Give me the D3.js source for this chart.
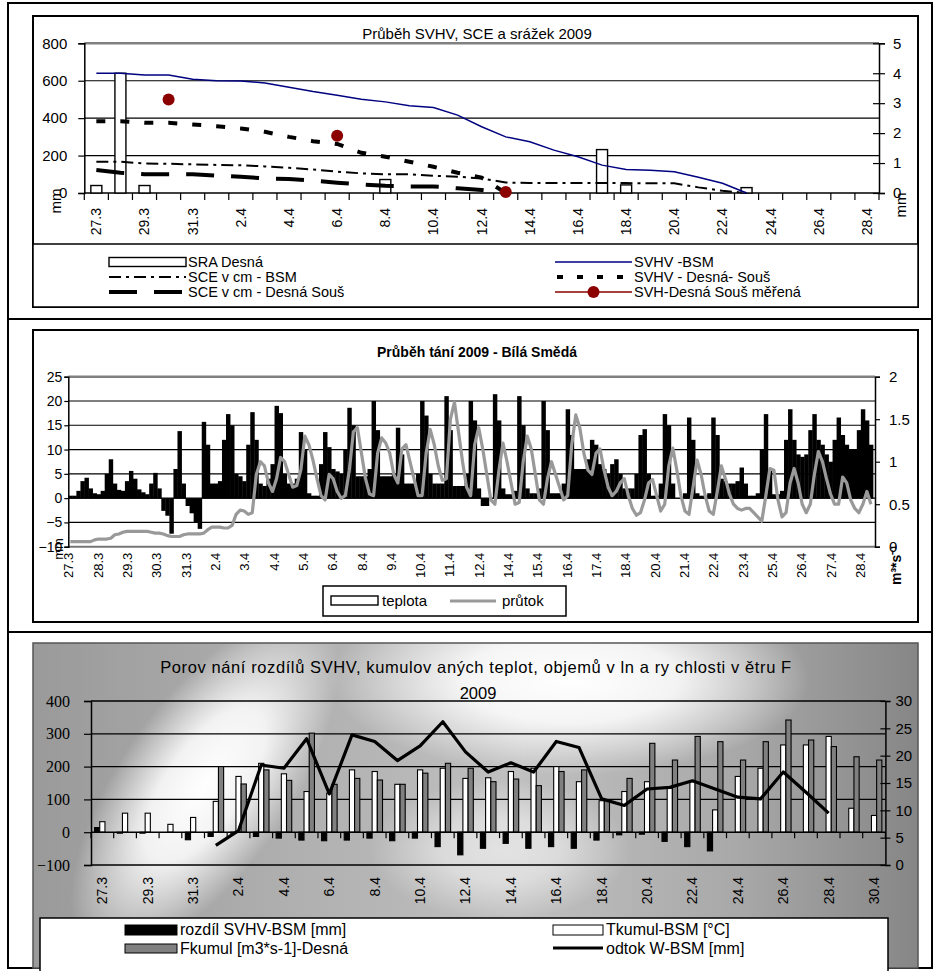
<!DOCTYPE html>
<html><head><meta charset="utf-8">
<script src="https://cdn.jsdelivr.net/npm/d3@7"></script>
<style>
body{margin:0;background:#fff}
svg text{font-family:Arial,"Liberation Sans",Helvetica,sans-serif;fill:#000}
</style></head>
<body>
<script>
// ---------------- data: snow water, snow depth and precipitation ----------------
const topDays = ["27.3","28.3","29.3","30.3","31.3","1.4","2.4","3.4","4.4","5.4","6.4","7.4","8.4","9.4","10.4","11.4","12.4","13.4","14.4","15.4","16.4","17.4","18.4","19.4","20.4","21.4","22.4","23.4","24.4","25.4","26.4","27.4","28.4"];
const sraDesna  = [0.25,4.0,0.25,0,0,0,0,0,0,0,0,0,0.45,0,0,0,0,0,0,0,0,1.45,0.27,0,0,0,0,0.18,0,0,0,0,0];
const svhvBsm   = [640,640,630,630,608,600,598,588,565,542,522,501,487,466,457,416,354,300,274,229,194,149,126,121,114,84,52,0,null,null,null,null,null];
const svhvDesna = [384,384,375,375,366,357,345,327,300,277,262,215,194,167,140,108,82,0,null,null,null,null,null,null,null,null,null,null,null,null,null,null,null];
const sceBsm    = [167,167,158,156,153,150,148,142,135,125,114,105,100,100,92,87,78,56,53,53,53,53,53,52,52,30,12,0,null,null,null,null,null];
const sceDesna  = [123,108,100,100,100,92,87,78,75,66,55,46,39,35,35,25,16,0,null,null,null,null,null,null,null,null,null,null,null,null,null,null,null];
const svhMerena = [null,null,null,500,null,null,null,null,null,null,306,null,null,null,null,null,null,5,null,null,null,null,null,null,null,null,null,null,null,null,null,null,null];

// ---------------- data: melt at Bílá Smědá, 4-hour steps from 27.3 ----------------
const meltStepHours = 4;
const meltLabels = ["27.3","28.3","29.3","30.3","31.3","2.4","3.4","4.4","5.4","6.4","8.4","9.4","10.4","11.4","12.4","14.4","15.4","16.4","17.4","18.4","20.4","21.4","22.4","23.4","25.4","26.4","27.4","28.4"];
const meltLabelEveryHours = 29;
const teplota = [
 0.5,0.5,1.5,3.5,4.2,2.0,   1.0,0.8,1.5,5.0,8.0,3.0,   1.7,1.5,3.5,5.6,4.0,1.8,   1.2,0.8,3.0,5.2,2.0,-2.5,
 -3.5,-7.2,6.0,13.8,3.0,-1.5, -3.0,-5.0,-6.2,15.7,11.0,3.0, 3.0,3.5,12.0,17.3,15.0,5.0, 4.5,3.5,11.0,17.7,12.0,3.0,
 2.5,4.0,7.0,19.0,17.5,5.0, 3.0,3.0,4.0,13.6,10.0,1.0,   0.5,0.5,7.0,13.6,10.5,6.0,  5.5,5.0,10.0,18.6,15.0,4.5,
 4.5,4.5,6.0,20.0,14.0,4.5, 4.5,4.5,5.0,14.5,9.0,3.0,   3.0,3.0,5.0,20.0,17.0,5.0,  3.0,3.0,3.0,21.0,14.0,2.5,
 2.5,2.5,5.0,20.0,16.0,2.0, -1.5,-1.5,0.0,21.4,16.0,2.0, 0.8,0.8,1.5,21.0,15.0,2.0,  1.0,1.0,2.0,20.0,14.0,1.0,
 1.0,1.0,3.0,18.3,13.0,6.0, 6.0,6.0,8.0,12.0,11.0,7.0,  6.0,5.0,7.0,8.0,5.0,2.0,    2.0,2.0,5.0,13.0,14.2,5.0,
 0.5,0.5,3.0,17.3,15.0,3.0, 0.0,0.0,1.0,16.6,12.0,1.0,  0.5,0.5,1.0,16.6,13.0,4.0,  3.5,3.0,3.0,3.5,6.3,3.0,
 0.5,0.5,1.0,10.0,17.3,6.0, 0.8,0.8,1.5,12.0,18.3,12.0, 9.0,8.5,9.0,14.0,17.3,12.0, 11.0,9.0,7.5,12.0,16.6,13.0,
 11.0,10.0,10.0,14.0,18.3,16.0, 11.0];
const prutok = [
 0.06,0.06,0.06,0.06,0.06,0.06, 0.08,0.09,0.09,0.09,0.10,0.14, 0.15,0.17,0.18,0.18,0.18,0.18, 0.18,0.18,0.17,0.16,0.16,0.15,
 0.13,0.12,0.12,0.12,0.14,0.15, 0.15,0.15,0.15,0.16,0.20,0.23, 0.23,0.23,0.22,0.22,0.25,0.38, 0.43,0.42,0.38,0.40,0.85,1.00,
 0.95,0.75,0.65,0.80,1.05,1.00, 0.85,0.70,0.72,0.90,1.30,1.20, 1.02,0.80,0.60,0.55,0.85,0.80, 0.65,0.57,0.60,0.90,1.35,1.40,
 1.10,0.80,0.62,0.60,1.10,1.28, 1.22,1.10,0.85,0.75,1.15,1.20, 1.00,0.80,0.60,0.60,1.10,1.38, 1.20,0.95,0.78,0.80,1.50,1.70,
 1.35,1.00,0.70,0.60,1.20,1.40, 1.15,0.85,0.55,0.50,0.90,1.22, 1.00,0.75,0.50,0.52,1.00,1.30, 1.15,0.85,0.55,0.50,0.80,1.00,
 0.85,0.70,0.55,0.60,1.20,1.55, 1.40,1.10,0.90,0.85,1.10,1.15, 0.90,0.70,0.60,0.65,0.75,0.80, 0.60,0.45,0.37,0.40,0.55,0.75,
 0.79,0.60,0.42,0.50,0.95,1.16, 0.90,0.60,0.42,0.38,0.70,1.02, 0.85,0.60,0.42,0.38,0.65,0.95, 0.80,0.62,0.50,0.45,0.43,0.45,
 0.45,0.40,0.35,0.30,0.60,0.92, 0.90,0.55,0.35,0.40,0.75,0.92, 0.75,0.50,0.40,0.50,0.85,1.12, 1.00,0.80,0.62,0.50,0.50,0.82,
 0.75,0.55,0.45,0.40,0.50,0.65, 0.50];

// ---------------- data: differences, cumulative temperatures, runoff ----------------
const botDays = ["27.3","28.3","29.3","30.3","31.3","1.4","2.4","3.4","4.4","5.4","6.4","7.4","8.4","9.4","10.4","11.4","12.4","13.4","14.4","15.4","16.4","17.4","18.4","19.4","20.4","21.4","22.4","23.4","24.4","25.4","26.4","27.4","28.4","29.4","30.4"];
const rozdil = [14,-3,-3,0,-23,-13,-3,-13,-18,-24,-26,-24,-18,-26,-18,-44,-69,-49,-34,-49,-44,-49,-24,-8,-6,-28,-44,-57,0,0,0,0,0,0,0];
const tkumul = [32,58,58,24,45,94,170,210,178,124,119,190,185,146,190,195,164,166,185,195,200,154,96,124,154,134,154,68,170,195,266,266,292,73,51];
const fkumul = [0,0,0,0,0,200,147,190,158,302,146,164,159,146,180,210,195,154,162,142,185,190,98,164,271,220,292,276,220,276,342,281,261,230,220];
const odtok  = [null,null,null,null,null,3.6,6.3,18.3,17.7,23.1,13.0,23.8,22.6,19.1,21.8,26.2,20.7,17.0,18.7,17.0,22.6,21.5,12.1,10.9,13.9,14.2,15.4,13.9,12.4,12.1,17.0,13.3,9.5,null,null];

// ---------------- drawing ----------------
const svg = d3.select("body").append("svg").attr("width",939).attr("height",971);
const SERIF = "'Times New Roman','Liberation Serif',serif";
const fmt = d3.format("~g");

function styleAxis(g, size, family){
  g.select(".domain").attr("stroke","#000").attr("stroke-width",1.5);
  g.selectAll(".tick line").attr("stroke","#000").attr("stroke-width",1.2);
  g.selectAll(".tick text").style("font-size",size+"px").attr("fill","#000");
  if(family) g.selectAll(".tick text").style("font-family",family);
}
function rotLabels(g, pad, size){
  g.select(".domain").remove();
  g.selectAll(".tick line").remove();
  g.selectAll(".tick text").attr("transform","rotate(-90)").attr("x",-pad).attr("y",0)
    .attr("dy","0.35em").attr("text-anchor","end").style("font-size",size+"px");
}
function hline(g,x1,x2,y,color,w){ return g.append("line").attr("x1",x1).attr("x2",x2).attr("y1",y).attr("y2",y).attr("stroke",color).attr("stroke-width",w); }
function vtitle(g,x,y,txt,size,bold){
  return g.append("text").attr("transform",`translate(${x},${y}) rotate(-90)`).attr("text-anchor","middle")
    .attr("dy","0.35em").style("font-size",size+"px").style("font-weight",bold?"bold":"normal").text(txt);
}

// table frame
svg.append("rect").attr("x",8).attr("y",3).attr("width",924).attr("height",965).attr("fill","#fff").attr("stroke","#000").attr("stroke-width",2);
hline(svg,8,932,319,"#000",2);
hline(svg,8,932,632,"#000",2);

// ======== panel 1 ========
const p1 = svg.append("g");
p1.append("rect").attr("x",33).attr("y",16).attr("width",885).attr("height",291).attr("fill","#fff").attr("stroke","#000").attr("stroke-width",2);
const tX = d3.scaleBand().domain(topDays).range([84.3,879]);
const tL = d3.scaleLinear().domain([0,800]).range([193,43.3]);
const tR = d3.scaleLinear().domain([0,5]).range([193,43.3]);
const tc = d => tX(d)+tX.bandwidth()/2;

[200,400,600].forEach(v=>hline(p1,84.3,879,tL(v),"#000",1.2));
hline(p1,84.3,879,tL(800),"#808080",2.5);

p1.append("g").attr("transform","translate(84.3,0)")
  .call(d3.axisLeft(tL).tickValues([0,200,400,600,800]).tickSize(6).tickPadding(11))
  .call(g=>styleAxis(g,15));
p1.append("g").attr("transform","translate(879,0)")
  .call(d3.axisRight(tR).tickValues([0,1,2,3,4,5]).tickFormat(fmt).tickSize(6).tickPadding(8))
  .call(g=>styleAxis(g,15))
  .call(g=>g.selectAll(".tick line").attr("x1",-6));
// category axis
hline(p1,84.3,879,tL(0),"#000",1.5);
p1.selectAll(".tb").data(topDays.map(d=>tX(d)).concat([879])).join("line")
  .attr("x1",d=>d).attr("x2",d=>d).attr("y1",tL(0)).attr("y2",tL(0)+7).attr("stroke","#000").attr("stroke-width",1.2);
p1.append("g").attr("transform",`translate(0,${tL(0)})`)
  .call(d3.axisBottom(tX).tickValues(topDays.filter((d,i)=>i%2===0)))
  .call(g=>rotLabels(g,15,14));

// precipitation bars
p1.selectAll(".sra").data(topDays.map((k,i)=>({k,v:sraDesna[i]})).filter(d=>d.v>0)).join("rect")
  .attr("x",d=>tc(d.k)-5.5).attr("width",11).attr("y",d=>tR(d.v)).attr("height",d=>tR(0)-tR(d.v))
  .attr("fill","#fff").attr("stroke","#000").attr("stroke-width",1.4);

const tLine = d3.line().defined(d=>d.v!=null).x(d=>tc(d.k)).y(d=>tL(d.v));
const ser = arr => topDays.map((k,i)=>({k,v:arr[i]}));
p1.append("path").datum(ser(sceBsm)).attr("d",tLine).attr("fill","none").attr("stroke","#000").attr("stroke-width",2).attr("stroke-dasharray","12,5,3,5");
p1.append("path").datum(ser(sceDesna)).attr("d",tLine).attr("fill","none").attr("stroke","#000").attr("stroke-width",4).attr("stroke-dasharray","28,17");
p1.append("path").datum(ser(svhvDesna)).attr("d",tLine).attr("fill","none").attr("stroke","#000").attr("stroke-width",4).attr("stroke-dasharray","9,15");
p1.append("path").datum(ser(svhvBsm)).attr("d",tLine).attr("fill","none").attr("stroke","#000080").attr("stroke-width",1.5);
p1.selectAll(".svh").data(ser(svhMerena).filter(d=>d.v!=null)).join("circle")
  .attr("cx",d=>tc(d.k)).attr("cy",d=>tL(d.v)).attr("r",6).attr("fill","#8b0000");

p1.append("text").attr("x",477).attr("y",34).attr("dy","0.35em").attr("text-anchor","middle").style("font-size","15px").text("Průběh SVHV, SCE a srážek 2009");
vtitle(p1,56,201,"mm",15);
vtitle(p1,901,205,"mm",15);

// legend
p1.append("rect").attr("x",33).attr("y",244).attr("width",885).attr("height",63).attr("fill","#fff").attr("stroke","#000").attr("stroke-width",1.5);
const lg1 = [
  {x:109,y:262,t:"SRA Desná",k:"bar"},
  {x:109,y:277,t:"SCE v cm - BSM",k:"dd"},
  {x:109,y:292,t:"SCE v cm - Desná Souš",k:"ld"},
  {x:555,y:262,t:"SVHV -BSM",k:"blue"},
  {x:555,y:277,t:"SVHV - Desná- Souš",k:"dot"},
  {x:555,y:292,t:"SVH-Desná Souš měřená",k:"mark"}];
lg1.forEach(d=>{
  const w=77;
  if(d.k==="bar") p1.append("rect").attr("x",d.x).attr("y",d.y-4.5).attr("width",w).attr("height",9).attr("fill","#fff").attr("stroke","#000").attr("stroke-width",1.4);
  if(d.k==="dd") hline(p1,d.x,d.x+w,d.y,"#000",2).attr("stroke-dasharray","12,5,3,5");
  if(d.k==="ld") hline(p1,d.x,d.x+w,d.y,"#000",4).attr("stroke-dasharray","28,17");
  if(d.k==="blue") hline(p1,d.x,d.x+w,d.y,"#000080",1.5);
  if(d.k==="dot") hline(p1,d.x,d.x+w,d.y,"#000",4).attr("stroke-dasharray","6,14").attr("stroke-dashoffset",-2);
  if(d.k==="mark"){ hline(p1,d.x,d.x+w,d.y,"#8b0000",1.5); p1.append("circle").attr("cx",d.x+w/2).attr("cy",d.y).attr("r",6).attr("fill","#8b0000"); }
  p1.append("text").attr("x",d.x+w+2).attr("y",d.y).attr("dy","0.35em").style("font-size","14.5px").text(d.t);
});

// ======== panel 2 ========
const p2 = svg.append("g");
p2.append("rect").attr("x",33).attr("y",330).attr("width",885).attr("height",292).attr("fill","#fff").attr("stroke","#000").attr("stroke-width",2);
const hoursTotal = 798;
const mX = d3.scaleLinear().domain([0,hoursTotal]).range([68.3,875]);
const mL = d3.scaleLinear().domain([-10,25]).range([546.7,376.7]);
const mR = d3.scaleLinear().domain([0,2]).range([546.7,376.7]);

[20,15,10,5,0,-5].forEach(v=>hline(p2,68.3,875,mL(v),"#000",1.2));
hline(p2,68.3,875,mL(25),"#808080",2.5);
hline(p2,68.3,875,mL(-10),"#777",2);

// temperature bars
p2.selectAll(".tb").data(teplota).join("rect")
  .attr("x",(d,i)=>mX(i*meltStepHours))
  .attr("width",(d,i)=>mX(Math.min((i+1)*meltStepHours,hoursTotal))-mX(i*meltStepHours)+0.4)
  .attr("y",d=>mL(Math.max(d,0))).attr("height",d=>Math.abs(mL(d)-mL(0))+0.6)
  .attr("fill","#000");
// discharge line
p2.append("path").datum(prutok)
  .attr("d",d3.line().x((d,i)=>mX(i*meltStepHours+meltStepHours/2)).y(d=>mR(d)))
  .attr("fill","none").attr("stroke","#999").attr("stroke-width",3.2).attr("stroke-linejoin","round");

p2.append("g").attr("transform","translate(68.3,0)")
  .call(d3.axisLeft(mL).tickValues([-10,-5,0,5,10,15,20,25]).tickSize(4).tickPadding(2))
  .call(g=>styleAxis(g,14));
p2.append("g").attr("transform","translate(875,0)")
  .call(d3.axisRight(mR).tickValues([0,0.5,1,1.5,2]).tickFormat(fmt).tickSize(5).tickPadding(9))
  .call(g=>styleAxis(g,15));
const tickHours = meltLabels.map((d,i)=>i*meltLabelEveryHours);
p2.append("g").attr("transform",`translate(0,${mL(-10)})`)
  .call(d3.axisBottom(mX).tickValues(tickHours).tickFormat((d,i)=>meltLabels[i]))
  .call(g=>rotLabels(g,6,13));

p2.append("text").attr("x",477).attr("y",352).attr("dy","0.35em").attr("text-anchor","middle")
  .style("font-size","14px").style("font-weight","bold").text("Průběh tání 2009 - Bílá Smědá");
vtitle(p2,58,549,"mm",13);
vtitle(p2,896,565,"m³*s⁻¹",14,true);

p2.append("rect").attr("x",323).attr("y",586).attr("width",243).attr("height",30).attr("fill","#fff").attr("stroke","#000").attr("stroke-width",1.5);
p2.append("rect").attr("x",331).attr("y",596).attr("width",47).attr("height",9).attr("fill","#fff").attr("stroke","#000").attr("stroke-width",1.4);
p2.append("text").attr("x",382).attr("y",601).attr("dy","0.35em").style("font-size","15px").text("teplota");
hline(p2,450,496,601,"#999",3.2);
p2.append("text").attr("x",502).attr("y",601).attr("dy","0.35em").style("font-size","15px").text("průtok");

// ======== panel 3 ========
const p3 = svg.append("g");
const defs = svg.append("defs");
const gr = defs.append("linearGradient").attr("id","bg3").attr("gradientUnits","userSpaceOnUse")
  .attr("x1",33).attr("y1",0).attr("x2",918).attr("y2",0);
[[0,"#9a9a9a"],[0.3,"#b0b0b0"],[0.55,"#c0c0c0"],[0.8,"#a8a8a8"],[1,"#868686"]]
  .forEach(s=>gr.append("stop").attr("offset",s[0]).attr("stop-color",s[1]));
const hl = defs.append("radialGradient").attr("id","hl");
[[0,1],[0.45,0.85],[1,0]].forEach(s=>hl.append("stop").attr("offset",s[0]).attr("stop-color","#fff").attr("stop-opacity",s[1]));
defs.append("clipPath").attr("id","clip3").append("rect").attr("x",33).attr("y",643).attr("width",885).attr("height",325);

p3.append("rect").attr("x",33).attr("y",643).attr("width",885).attr("height",325).attr("fill","url(#bg3)");
const glow = p3.append("g").attr("clip-path","url(#clip3)");
glow.append("ellipse").attr("cx",205).attr("cy",785).attr("rx",85).attr("ry",200).attr("transform","rotate(35,205,785)").attr("fill","url(#hl)");
glow.append("ellipse").attr("cx",570).attr("cy",680).attr("rx",240).attr("ry",95).attr("fill","url(#hl)");
glow.append("ellipse").attr("cx",500).attr("cy",850).attr("rx",130).attr("ry",70).attr("fill","url(#hl)").attr("opacity",0.55);
p3.append("rect").attr("x",33).attr("y",643).attr("width",885).attr("height",325).attr("fill","none").attr("stroke","#555").attr("stroke-width",1.5);

const bX = d3.scaleBand().domain(botDays).range([91,885.4]);
const bL = d3.scaleLinear().domain([-100,400]).range([865,701]);
const bR = d3.scaleLinear().domain([0,30]).range([865,701]);
const bw = 5.2, bc = d => bX(d)+bX.bandwidth()/2;

[100,200,300].forEach(v=>hline(p3,91,885.4,bL(v),"#000",1.2));
hline(p3,91,885.4,bL(400),"#000",1.5);
hline(p3,91,885.4,bL(-100),"#000",1.5);

const bars = [{vals:rozdil,fill:"#000",off:-1.5},{vals:tkumul,fill:"#fff",off:-0.5},{vals:fkumul,fill:"#808080",off:0.5}];
bars.forEach(s=>{
  p3.selectAll(null).data(botDays.map((k,i)=>({k,v:s.vals[i]})).filter(d=>d.v!==0)).join("rect")
    .attr("x",d=>bc(d.k)+s.off*bw).attr("width",bw)
    .attr("y",d=>bL(Math.max(d.v,0))).attr("height",d=>Math.abs(bL(d.v)-bL(0)))
    .attr("fill",s.fill).attr("stroke","#000").attr("stroke-width",1.1);
});
// zero axis with category ticks
hline(p3,91,885.4,bL(0),"#000",1.5);
p3.selectAll(".bt").data(botDays.map(d=>bX(d)).concat([885.4])).join("line")
  .attr("x1",d=>d).attr("x2",d=>d).attr("y1",bL(0)).attr("y2",bL(0)+6).attr("stroke","#000").attr("stroke-width",1.2);
p3.append("path").datum(botDays.map((k,i)=>({k,v:odtok[i]})))
  .attr("d",d3.line().defined(d=>d.v!=null).x(d=>bc(d.k)).y(d=>bR(d.v)))
  .attr("fill","none").attr("stroke","#000").attr("stroke-width",3.2).attr("stroke-linejoin","round");

p3.append("g").attr("transform","translate(91,0)")
  .call(d3.axisLeft(bL).tickValues([-100,0,100,200,300,400]).tickSize(7).tickPadding(14))
  .call(g=>styleAxis(g,16,SERIF));
p3.append("g").attr("transform","translate(885.4,0)")
  .call(d3.axisRight(bR).tickValues([0,5,10,15,20,25,30]).tickSize(5).tickPadding(5))
  .call(g=>styleAxis(g,15))
  .call(g=>g.selectAll(".tick line").attr("x1",-5));
p3.append("g").attr("transform",`translate(0,${bL(-100)})`)
  .call(d3.axisBottom(bX).tickValues(botDays.filter((d,i)=>i%2===0)))
  .call(g=>rotLabels(g,12,14));

p3.append("text").attr("x",476).attr("y",667).attr("dy","0.35em").attr("text-anchor","middle")
  .style("font-size","16.5px").style("letter-spacing","0.6px")
  .text("Porov nání rozdílů SVHV, kumulov aných teplot, objemů v ln a ry chlosti v ětru F");
p3.append("text").attr("x",478).attr("y",693).attr("dy","0.35em").attr("text-anchor","middle").style("font-size","16.5px").text("2009");

p3.append("rect").attr("x",40).attr("y",918).attr("width",848).attr("height",60).attr("fill","#fff").attr("stroke","#000").attr("stroke-width",1.5);
p3.append("rect").attr("x",125).attr("y",925).attr("width",52).attr("height",10).attr("fill","#000").attr("stroke","#000");
p3.append("text").attr("x",180).attr("y",929).attr("dy","0.35em").style("font-size","16px").text("rozdíl SVHV-BSM [mm]");
p3.append("rect").attr("x",125).attr("y",944).attr("width",52).attr("height",9).attr("fill","#808080").attr("stroke","#000");
p3.append("text").attr("x",180).attr("y",948).attr("dy","0.35em").style("font-size","16px").text("Fkumul [m3*s-1]-Desná");
p3.append("rect").attr("x",553).attr("y",925).attr("width",50).attr("height",10).attr("fill","#fff").attr("stroke","#000");
p3.append("text").attr("x",606).attr("y",929).attr("dy","0.35em").style("font-size","16px").text("Tkumul-BSM [°C]");
hline(p3,553,603,948,"#000",3.2);
p3.append("text").attr("x",606).attr("y",948).attr("dy","0.35em").style("font-size","16px").text("odtok W-BSM [mm]");
</script>
</body></html>
